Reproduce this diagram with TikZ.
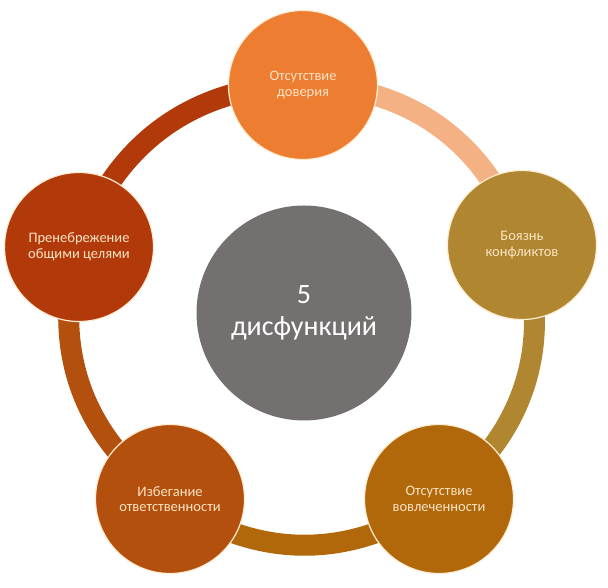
\documentclass[tikz,border=0pt]{standalone}
\usepackage{fontspec}
\setmainfont{Carlito}
\usepackage{tikz}
\usetikzlibrary{backgrounds}
\definecolor{trustc}{RGB}{237,125,49}
\definecolor{conflictc}{RGB}{176,135,48}
\definecolor{commitc}{RGB}{176,104,10}
\definecolor{accountc}{RGB}{180,80,14}
\definecolor{resultsc}{RGB}{178,58,10}
\definecolor{peach}{RGB}{244,177,131}
\definecolor{coregray}{RGB}{117,112,112}
\definecolor{cream}{RGB}{252,228,196}
\definecolor{rim}{RGB}{255,236,210}
\tikzstyle{dysf} = [
    circle,
    minimum size=149pt,
    inner sep=0pt,
    draw=rim,
    line width=1.2pt,
    text=cream,
    align=center,
    font=\fontsize{14.5}{15.5}\selectfont
]
\tikzstyle{core} = [
    circle,
    minimum size=215pt,
    inner sep=0pt,
    fill=coregray,
    text=white,
    align=center,
    font=\fontsize{28}{32}\selectfont
]
\tikzstyle{ring} = [
    draw,
    line width=21pt,
    bend left=36
]

\begin{document}
\begin{tikzpicture}[x = 1pt, y = 1pt]
\useasboundingbox (0,0) rectangle (608,588);

\node[core] (core)                 at (304,275) {5\\дисфункций};

\node[dysf, fill=trustc]   (trust)    at (303,503) {Отсутствие\\доверия};
\node[dysf, fill=conflictc] (conflict) at (522,343) {Боязнь\\конфликтов};
\node[dysf, fill=commitc]  (commit)   at (439,89)  {Отсутствие\\вовлеченности};
\node[dysf, fill=accountc] (account)  at (170,89)  {Избегание\\ответственности};
\node[dysf, fill=resultsc] (results)  at (79,341)  {Пренебрежение\\общими целями};

\begin{scope}[on background layer]
\draw[ring, draw=resultsc]  (results.center)  to (trust.center);
\draw[ring, draw=peach]     (trust.center)    to (conflict.center);
\draw[ring, draw=conflictc] (conflict.center) to (commit.center);
\draw[ring, draw=commitc]   (commit.center)   to (account.center);
\draw[ring, draw=accountc]  (account.center)  to (results.center);
\end{scope}
\end{tikzpicture}
\end{document}
